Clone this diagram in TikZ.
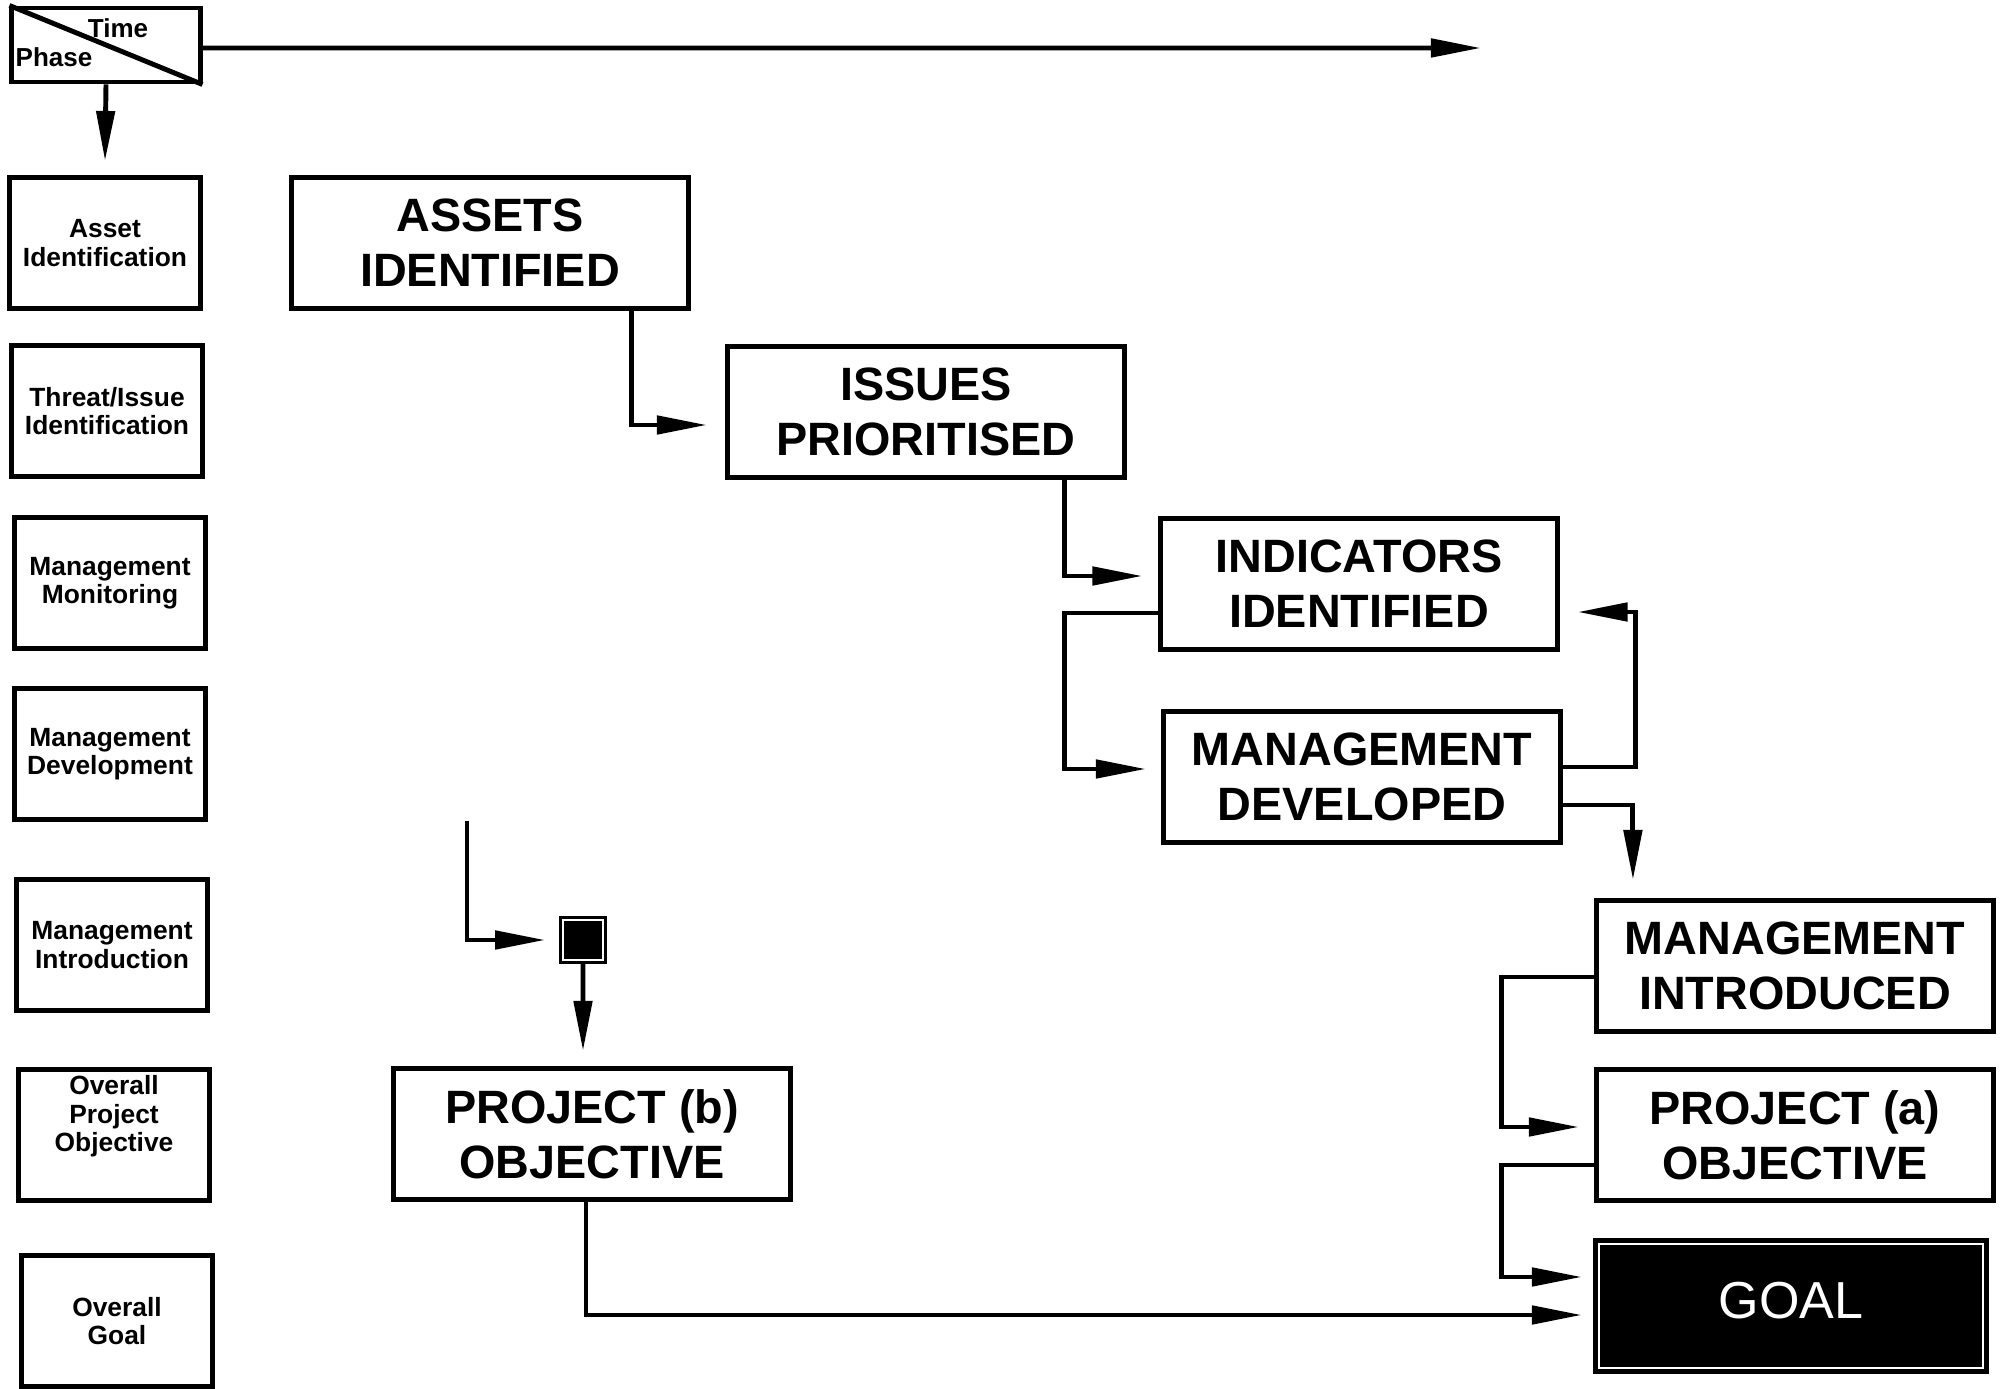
\documentclass[tikz,border=0pt]{standalone}
\usepackage{fontspec}
\setmainfont{Liberation Sans}
\usetikzlibrary{arrows.meta}

\begin{document}
\begin{tikzpicture}[x=0.01cm, y=-0.01cm,
    phasebox/.style={draw, line width=1.4pt, minimum width=1.9cm, minimum height=1.31cm,
        align=center, inner sep=1pt, font=\fontsize{7.5}{8.1}\selectfont\bfseries},
    stagebox/.style={draw, line width=1.4pt, minimum width=3.97cm, minimum height=1.31cm,
        align=center, inner sep=1pt, font=\fontsize{13.3}{15.6}\selectfont\bfseries},
    goalbox/.style={stagebox, minimum width=3.83cm, minimum height=1.24cm, fill=black, text=white,
        double=white, double distance=0.6pt, text depth=0.12cm, font=\fontsize{14.8}{15}\selectfont},
    flow/.style={line width=1.4pt, -{Triangle[length=5mm, width=1.8mm]}},
]
    \useasboundingbox (0,0) rectangle (2006,1389);

    % Phase / Time corner
    \node[draw, line width=1.4pt, minimum width=1.88cm, minimum height=0.74cm, inner sep=0] (phase) at (106,45) {};
    \draw[line width=1.4pt] (phase.north west) -- (phase.south east);
    \node[font=\fontsize{7.4}{8}\selectfont\bfseries] (timetxt) at (118,28) {Time};
    \node[font=\fontsize{7.4}{8}\selectfont\bfseries] (phasetxt) at (54,57) {Phase};
    \coordinate (timeend) at (1481,48);
    \draw[flow] ([yshift=-0.3mm]phase.east) -- (timeend);

    % Phase column
    \foreach \nm/\xx/\yy/\txt in {id1/105/243/{Asset\\Identification},
                                  id2/107/411/{Threat/Issue\\Identification},
                                  id3/110/583/{Management\\Monitoring},
                                  id4/110/754/{Management\\Development},
                                  id5/112/945/{Management\\Introduction},
                                  id7/117/1321/{Overall\\Goal}} {
        \node[phasebox] (\nm) at (\xx,\yy) {\txt};
    }
    \node[phasebox, text depth=0.43cm] (id6) at (114,1135) {Overall\\Project\\Objective};
    \draw[flow] (phase.south) -- ([yshift=1.4mm]id1.north);

    % Stages
    \node[stagebox] (assets) at (490,243) {ASSETS\\IDENTIFIED};
    \node[stagebox] (issues) at (926,412) {ISSUES\\PRIORITISED};
    \node[stagebox] (indic) at (1359,584) {INDICATORS\\IDENTIFIED};
    \node[stagebox] (mdev) at (1362,777) {MANAGEMENT\\DEVELOPED};
    \node[stagebox] (mintro) at (1795,966) {MANAGEMENT\\INTRODUCED};
    \node[stagebox] (proja) at (1795,1135) {PROJECT (a)\\OBJECTIVE};
    \node[goalbox] (goal) at (1791,1306) {GOAL};
    \node[stagebox] (projb) at (592,1134) {PROJECT (b)\\OBJECTIVE};

    % Project (b) feed
    \coordinate (feed) at (467,821);
    \node[draw, fill=black, double=white, double distance=0.5pt, line width=1pt,
        minimum size=0.4cm, inner sep=0] (jn) at (583,940) {};

    % Connectors
    \draw[flow] ([xshift=1.41cm]assets.south) |- ([xshift=-1.8mm,yshift=-1.3mm]issues.west);
    \draw[flow] ([xshift=1.38cm]issues.south) |- ([xshift=-1.55mm,yshift=0.8mm]indic.west);
    \draw[flow] ([yshift=-2.9mm]indic.west) -- ++(-93,0) |- ([xshift=-1.5mm,yshift=0.8mm]mdev.west);
    \draw[flow] ([yshift=1mm]mdev.east) -- ++(72,0) |- ([xshift=1.75mm,yshift=-2.8mm]indic.east);
    \draw[flow] ([yshift=-2.8mm]mdev.east) -| ([xshift=-1.62cm,yshift=1.8mm]mintro.north);
    \draw[flow] ([yshift=-1.1mm]mintro.west) -- ++(-92,0) |- ([xshift=-1.5mm,yshift=0.8mm]proja.west);
    \draw[flow] ([yshift=-3mm]proja.west) -- ++(-92,0) |- ([xshift=-1.5mm,yshift=2.9mm]goal.west);
    \draw[flow] ([xshift=-0.6mm]projb.south) |- ([xshift=-1.5mm,yshift=-0.9mm]goal.west);
    \draw[flow] (feed) |- ([xshift=-1.6mm]jn.west);
    \draw[flow] (jn.south) -- ([xshift=-0.9mm,yshift=1.5mm]projb.north);

\end{tikzpicture}
\end{document}
